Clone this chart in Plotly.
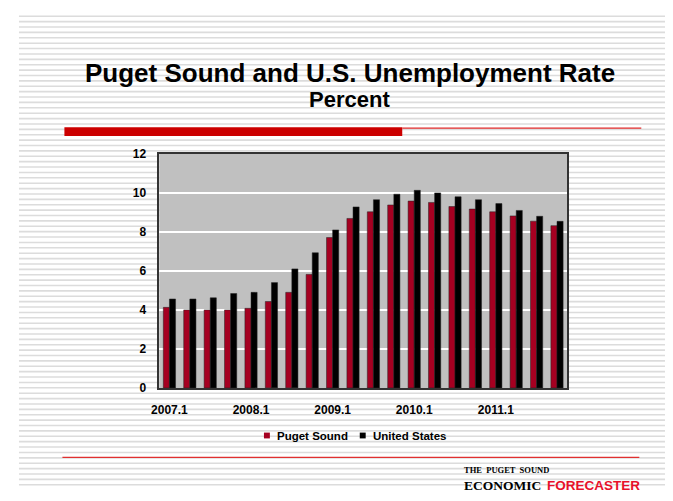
import plotly.graph_objects as go

# ---- data ----
quarters = ["2007.1", "2007.2", "2007.3", "2007.4",
            "2008.1", "2008.2", "2008.3", "2008.4",
            "2009.1", "2009.2", "2009.3", "2009.4",
            "2010.1", "2010.2", "2010.3", "2010.4",
            "2011.1", "2011.2", "2011.3", "2011.4"]
puget_sound = [4.13, 4.0, 4.0, 4.0, 4.08, 4.43, 4.9, 5.82, 7.71, 8.69,
               9.03, 9.38, 9.58, 9.51, 9.3, 9.17, 9.03, 8.82, 8.55, 8.32]
united_states = [4.56, 4.56, 4.62, 4.84, 4.9, 5.4, 6.1, 6.93, 8.1, 9.28,
                 9.65, 9.93, 10.13, 10.0, 9.8, 9.65, 9.45, 9.1, 8.8, 8.54]
series_names = ["Puget Sound", "United States"]
series_colors = ["#A50021", "#000000"]
tick_labels = ["2007.1", "2008.1", "2009.1", "2010.1", "2011.1"]
y_ticks = [0, 2, 4, 6, 8, 10, 12]

# the page body keeps its default 8px margin, so the figure is sized to fit
OFF = 8
W, H = 673 - 2 * OFF, 501 - 2 * OFF
SANS = "Liberation Sans, Arial, sans-serif"
SERIF = "Liberation Serif, Times New Roman, serif"


def px(x):
    return (x - OFF) / W


def py(y):
    return 1 - (y - OFF) / H


fig = go.Figure()
for name, vals, col in zip(series_names, [puget_sound, united_states], series_colors):
    fig.add_trace(go.Bar(x=quarters, y=vals, name=name,
                         marker=dict(color=col, line=dict(color="#222222", width=0.5)),
                         showlegend=False, hoverinfo="skip"))

shapes = []
# striped page background
for k in range(89):
    yy = 9.3 + 5.545 * k
    if yy > OFF + H:
        break
    shapes.append(dict(type="line", xref="paper", yref="paper", layer="below",
                       x0=px(11), x1=1, y0=py(yy), y1=py(yy),
                       line=dict(color="#DCDCDC", width=1.6)))
# plot area background
plot_l, plot_r, plot_t, plot_b = 153, 566, 151, 392
shapes.append(dict(type="rect", xref="paper", yref="paper", layer="below",
                   x0=px(plot_l), x1=px(plot_r), y0=py(plot_b), y1=py(plot_t),
                   fillcolor="#C0C0C0", line=dict(width=0)))
# red decorative bars
shapes.append(dict(type="rect", xref="paper", yref="paper",
                   x0=px(57), x1=px(399), y0=py(132.5), y1=py(123.5),
                   fillcolor="#CC0000", line=dict(width=0)))
shapes.append(dict(type="line", xref="paper", yref="paper",
                   x0=px(399), x1=px(641), y0=py(124.5), y1=py(124.5),
                   line=dict(color="#E02828", width=1.3)))
shapes.append(dict(type="line", xref="paper", yref="paper",
                   x0=px(55), x1=px(639), y0=py(463.5), y1=py(463.5),
                   line=dict(color="#E03030", width=1.3)))
# legend squares
leg_sq_x = [259, 356]
for xs, col in zip(leg_sq_x, series_colors):
    shapes.append(dict(type="rect", xref="paper", yref="paper",
                       x0=px(xs), x1=px(xs + 6), y0=py(444), y1=py(438),
                       fillcolor=col, line=dict(width=0)))

annotations = [
    dict(text="<b>Puget Sound and U.S. Unemployment Rate</b>", x=px(346), y=py(67.5),
         xref="paper", yref="paper", xanchor="center", yanchor="middle", showarrow=False,
         font=dict(family=SANS, size=26, color="#000000")),
    dict(text="<b>Percent</b>", x=px(346), y=py(95.5),
         xref="paper", yref="paper", xanchor="center", yanchor="middle", showarrow=False,
         font=dict(family=SANS, size=22, color="#000000")),
    dict(text="<b>THE  PUGET  SOUND</b>", x=px(460), y=py(476.5),
         xref="paper", yref="paper", xanchor="left", yanchor="middle", showarrow=False,
         font=dict(family=SERIF, size=8.5, color="#000000")),
    dict(text="<b>ECONOMIC</b>", x=px(460), y=py(492),
         xref="paper", yref="paper", xanchor="left", yanchor="middle", showarrow=False,
         font=dict(family=SERIF, size=13.5, color="#000000")),
    dict(text="<b>FORECASTER</b>", x=px(544), y=py(492),
         xref="paper", yref="paper", xanchor="left", yanchor="middle", showarrow=False,
         font=dict(family=SANS, size=13.5, color="#E8102A")),
]
leg_text_x = [270, 367]
for xt, name in zip(leg_text_x, series_names):
    annotations.append(dict(text="<b>" + name + "</b>", x=px(xt), y=py(441.5),
                            xref="paper", yref="paper", xanchor="left", yanchor="middle",
                            showarrow=False,
                            font=dict(family=SANS, size=11.5, color="#000000")))

fig.update_layout(
    width=W, height=H,
    margin=dict(l=0, r=0, t=0, b=0),
    paper_bgcolor="#FFFFFF",
    plot_bgcolor="rgba(0,0,0,0)",
    barmode="group", bargap=0.40, bargroupgap=0.0,
    shapes=shapes, annotations=annotations,
    hovermode=False,
    xaxis=dict(domain=[px(plot_l), px(plot_r)], type="category",
               tickmode="array", tickvals=tick_labels, ticktext=tick_labels,
               ticks="", showgrid=False, showline=True, mirror=True,
               linecolor="#333333", linewidth=1.5, ticklabelstandoff=10,
               tickfont=dict(family=SANS, size=12, color="#000000", weight="bold")),
    yaxis=dict(domain=[py(plot_b), py(plot_t)], range=[0, 12],
               tickmode="array", tickvals=y_ticks, ticks="",
               showgrid=True, gridcolor="#FFFFFF", gridwidth=1.5,
               zeroline=False, showline=True, mirror=True,
               linecolor="#333333", linewidth=1.5, ticklabelstandoff=9,
               tickfont=dict(family=SANS, size=12, color="#000000", weight="bold")),
)

fig.write_html("out.html")
